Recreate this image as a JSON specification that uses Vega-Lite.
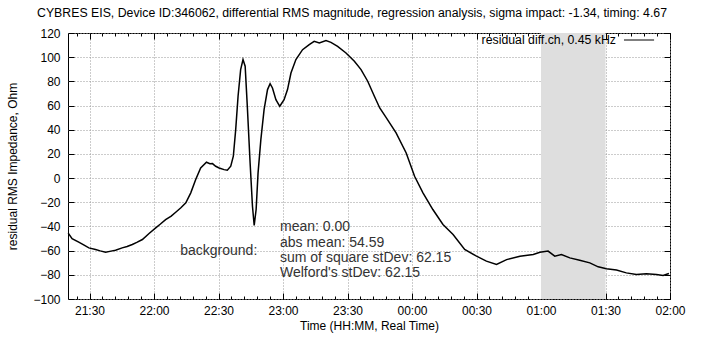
{
  "$schema": "https://vega.github.io/schema/vega-lite/v6.json",
  "width": 602,
  "height": 266,
  "autosize": {"type": "none"},
  "padding": {"left": 68, "top": 33, "right": 41, "bottom": 41},
  "background": "white",
  "config": {
    "view": {"stroke": "#000", "strokeWidth": 1},
    "font": "Liberation Sans",
    "axis": {
      "labelFont": "Liberation Sans", "titleFont": "Liberation Sans",
      "labelColor": "#000", "titleColor": "#000",
      "labelFontSize": 12, "titleFontSize": 12, "titleFontWeight": "normal",
      "domain": false, "tickColor": "#000", "tickWidth": 1, "zindex": 1
    }
  },
  "title": {
    "text": "CYBRES EIS, Device ID:346062, differential RMS magnitude, regression analysis, sigma impact: -1.34, timing: 4.67",
    "fontSize": 12.3, "fontWeight": "normal", "font": "Liberation Sans", "color": "#000",
    "anchor": "middle", "dx": -17, "offset": 8
  },
  "datasets": {
    "main": [
      {"m": 20.1, "v": -45.5}, {"m": 21.9, "v": -50.2}, {"m": 25.0, "v": -53.0}, {"m": 27.5, "v": -55.5},
      {"m": 29.7, "v": -57.7}, {"m": 32.8, "v": -59.0}, {"m": 35.0, "v": -60.2}, {"m": 37.5, "v": -61.3},
      {"m": 40.0, "v": -60.4}, {"m": 42.1, "v": -59.6}, {"m": 45.2, "v": -57.7}, {"m": 47.5, "v": -56.6},
      {"m": 49.9, "v": -54.9}, {"m": 52.0, "v": -53.2}, {"m": 54.6, "v": -50.8}, {"m": 57.7, "v": -45.8},
      {"m": 60.8, "v": -41.2}, {"m": 63.0, "v": -38.0}, {"m": 65.4, "v": -34.3}, {"m": 68.0, "v": -31.5},
      {"m": 70.1, "v": -28.2}, {"m": 72.5, "v": -24.5}, {"m": 74.8, "v": -20.5}, {"m": 77.1, "v": -12.2},
      {"m": 79.4, "v": -1.2}, {"m": 81.7, "v": 8.4}, {"m": 84.4, "v": 13.1}, {"m": 86.0, "v": 11.9},
      {"m": 87.2, "v": 12.0}, {"m": 88.7, "v": 9.8}, {"m": 90.3, "v": 8.4}, {"m": 92.6, "v": 7.0},
      {"m": 94.1, "v": 6.5}, {"m": 95.7, "v": 9.8}, {"m": 96.9, "v": 18.1}, {"m": 98.0, "v": 40.1},
      {"m": 99.1, "v": 67.7}, {"m": 100.3, "v": 89.7}, {"m": 101.4, "v": 98.0}, {"m": 102.4, "v": 92.5},
      {"m": 103.4, "v": 59.4}, {"m": 104.7, "v": 12.6}, {"m": 105.8, "v": -23.3}, {"m": 106.6, "v": -39.2},
      {"m": 107.5, "v": -26.0}, {"m": 108.4, "v": 4.3}, {"m": 109.7, "v": 31.8}, {"m": 111.2, "v": 56.6},
      {"m": 112.8, "v": 73.2}, {"m": 114.0, "v": 78.1}, {"m": 115.1, "v": 74.5}, {"m": 116.7, "v": 64.9},
      {"m": 118.5, "v": 59.4}, {"m": 120.5, "v": 64.9}, {"m": 122.1, "v": 73.2}, {"m": 123.7, "v": 86.9},
      {"m": 126.0, "v": 98.0}, {"m": 129.1, "v": 106.2}, {"m": 132.2, "v": 110.4}, {"m": 134.5, "v": 113.1},
      {"m": 136.9, "v": 111.7}, {"m": 140.0, "v": 113.7}, {"m": 142.3, "v": 112.3}, {"m": 145.4, "v": 109.0},
      {"m": 149.3, "v": 103.5}, {"m": 153.2, "v": 96.6}, {"m": 156.3, "v": 89.7}, {"m": 159.4, "v": 80.1},
      {"m": 162.5, "v": 67.7}, {"m": 165.0, "v": 58.0}, {"m": 168.0, "v": 50.0}, {"m": 172.6, "v": 37.4},
      {"m": 177.3, "v": 20.8}, {"m": 181.2, "v": 1.5}, {"m": 185.1, "v": -12.2}, {"m": 189.7, "v": -26.0},
      {"m": 194.4, "v": -38.4}, {"m": 199.1, "v": -46.7}, {"m": 204.5, "v": -59.0}, {"m": 210.0, "v": -64.6},
      {"m": 214.6, "v": -68.7}, {"m": 219.3, "v": -71.5}, {"m": 224.0, "v": -67.4}, {"m": 230.2, "v": -64.6},
      {"m": 236.4, "v": -63.2}, {"m": 239.5, "v": -61.3}, {"m": 243.3, "v": -60.4}, {"m": 246.4, "v": -64.6},
      {"m": 249.5, "v": -63.2}, {"m": 253.4, "v": -66.0}, {"m": 258.0, "v": -67.9}, {"m": 262.7, "v": -70.1},
      {"m": 266.6, "v": -73.4}, {"m": 270.4, "v": -75.0}, {"m": 275.1, "v": -76.1}, {"m": 279.7, "v": -78.4},
      {"m": 284.4, "v": -79.8}, {"m": 289.0, "v": -79.2}, {"m": 293.7, "v": -79.8}, {"m": 296.8, "v": -80.6},
      {"m": 299.5, "v": -78.9}
    ],
    "notes": [
      {"m": 72.2, "v": -60.5, "label": "background:"},
      {"m": 118.6, "v": -40.5, "label": "mean: 0.00"},
      {"m": 118.6, "v": -53.3, "label": "abs mean: 54.59"},
      {"m": 118.6, "v": -66.1, "label": "sum of square stDev: 62.15"},
      {"m": 118.6, "v": -78.6, "label": "Welford's stDev: 62.15"}
    ]
  },
  "layer": [
    {
      "data": {"values": [{"start": 240, "end": 270}]},
      "mark": {"type": "rect", "color": "#dedede"},
      "encoding": {
        "x": {"field": "start", "type": "quantitative", "scale": {"domain": [20, 300], "nice": false, "zero": false},
              "axis": {"orient": "top", "values": [30, 60, 90, 120, 150, 180, 210, 240, 270, 300],
                       "labels": false, "grid": false, "tickSize": -6, "title": null}},
        "x2": {"field": "end"}
      }
    },
    {
      "data": {"name": "main"},
      "mark": {"type": "line", "color": "#000", "strokeWidth": 1.5},
      "encoding": {
        "x": {
          "field": "m", "type": "quantitative",
          "axis": {"orient": "bottom", "values": [30, 60, 90, 120, 150, 180, 210, 240, 270, 300],
                   "labelExpr": "(floor((1260 + datum.value) / 60) % 24 < 10 ? '0' : '') + (floor((1260 + datum.value) / 60) % 24) + ':' + (datum.value % 60 < 10 ? '0' : '') + (datum.value % 60)",
                   "tickSize": -6, "labelPadding": 12, "grid": true, "gridColor": "#999", "gridDash": [1, 2],
                   "labelFlush": false, "labelOverlap": false,
                   "title": "Time (HH:MM, Real Time)", "titlePadding": 4}
        },
        "y": {
          "field": "v", "type": "quantitative",
          "scale": {"domain": [-100, 120], "nice": false, "zero": false},
          "axis": {"orient": "left", "values": [-100, -80, -60, -40, -20, 0, 20, 40, 60, 80, 100, 120],
                   "tickSize": -6, "labelPadding": 14, "grid": true, "gridColor": "#999", "gridDash": [1, 2],
                   "labelFlush": false, "labelOverlap": false,
                   "title": "residual RMS Impedance, Ohm", "titlePadding": 13}
        }
      }
    },
    {
      "data": {"name": "notes"},
      "mark": {"type": "text", "align": "left", "baseline": "middle", "fontSize": 14, "color": "#333", "font": "Liberation Sans"},
      "encoding": {
        "x": {"field": "m", "type": "quantitative",
              "axis": {"orient": "bottom", "labels": false, "grid": false, "tickSize": -3, "title": null,
                       "values": [24, 30, 36, 42, 48, 54, 60, 66, 72, 78, 84, 90, 96, 102, 108, 114, 120, 126, 132, 138, 144, 150, 156, 162, 168, 174, 180, 186, 192, 198, 204, 210, 216, 222, 228, 234, 240, 246, 252, 258, 264, 270, 276, 282, 288, 294, 300]}},
        "y": {"field": "v", "type": "quantitative",
              "axis": {"orient": "right", "labels": false, "grid": false, "tickSize": -6, "title": null,
                       "values": [-100, -80, -60, -40, -20, 0, 20, 40, 60, 80, 100, 120]}},
        "text": {"field": "label"}
      }
    },
    {
      "data": {"values": [{"m": 274.9, "v": 114.2, "label": "residual diff.ch, 0.45 kHz"}]},
      "mark": {"type": "text", "align": "right", "baseline": "middle", "fontSize": 12.3, "color": "#000", "font": "Liberation Sans"},
      "encoding": {
        "x": {"field": "m", "type": "quantitative",
              "axis": {"orient": "top", "labels": false, "grid": false, "tickSize": -3, "title": null,
                       "values": [24, 30, 36, 42, 48, 54, 60, 66, 72, 78, 84, 90, 96, 102, 108, 114, 120, 126, 132, 138, 144, 150, 156, 162, 168, 174, 180, 186, 192, 198, 204, 210, 216, 222, 228, 234, 240, 246, 252, 258, 264, 270, 276, 282, 288, 294, 300]}},
        "y": {"field": "v", "type": "quantitative", "axis": null},
        "text": {"field": "label"}
      }
    },
    {
      "data": {"values": [{"a": 278.6, "b": 292.6, "v": 114.2}]},
      "mark": {"type": "rule", "color": "#000", "strokeWidth": 1},
      "encoding": {
        "x": {"field": "a", "type": "quantitative", "axis": null},
        "x2": {"field": "b"},
        "y": {"field": "v", "type": "quantitative", "axis": null}
      }
    }
  ],
  "resolve": {"axis": {"x": "independent", "y": "independent"}}
}
